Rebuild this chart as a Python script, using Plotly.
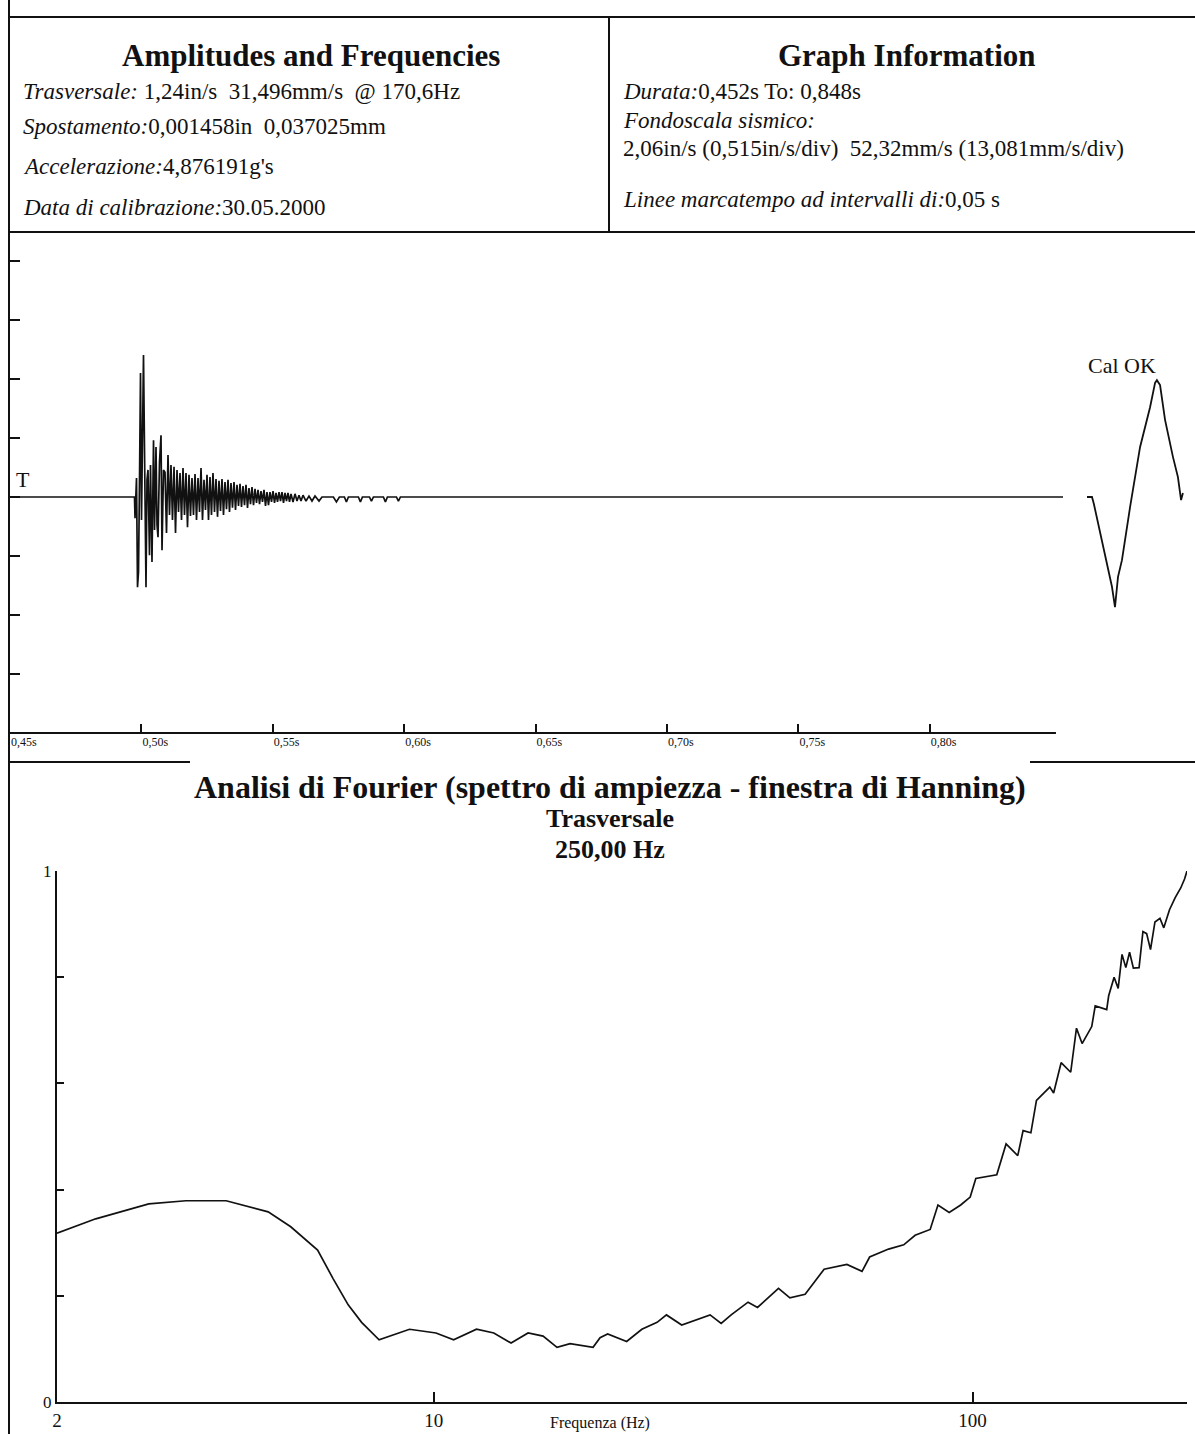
import math
import plotly.graph_objects as go

W, H = 1195, 1434
FONT = "Liberation Serif"
INK = "#111111"


def px(x):
    return x / W


def py(y):
    return 1 - y / H


# ---------------- header text ----------------
AMP_TITLE = "Amplitudes and Frequencies"
INFO_TITLE = "Graph Information"
AMP_LINES = [
    ("Trasversale:", " 1,24in/s  31,496mm/s  @ 170,6Hz"),
    ("Spostamento:", "0,001458in  0,037025mm"),
    ("Accelerazione:", "4,876191g's"),
    ("Data di calibrazione:", "30.05.2000"),
]
INFO_LINES = [
    ("Durata:", "0,452s To: 0,848s"),
    ("Fondoscala sismico:", ""),
    ("", "2,06in/s (0,515in/s/div)  52,32mm/s (13,081mm/s/div)"),
    ("Linee marcatempo ad intervalli di:", "0,05 s"),
]

# ---------------- seismic trace (mm/s) ----------------
MM_PER_DIV = 13.081
TIME_TICKS = [0.45, 0.50, 0.55, 0.60, 0.65, 0.70, 0.75, 0.80]
TIME_LABELS = ["0,45s", "0,50s", "0,55s", "0,60s", "0,65s", "0,70s", "0,75s", "0,80s"]
T_END = 0.848

WAVE_T = [
    0.45000, 0.49737, 0.49757, 0.49814, 0.49852, 0.49890, 0.49928, 0.49966,
    0.50004, 0.50080, 0.50175, 0.50213, 0.50251, 0.50308, 0.50346, 0.50403,
    0.50461, 0.50499, 0.50556, 0.50594, 0.50632, 0.50689, 0.50746, 0.50784,
    0.50841, 0.50898, 0.50955, 0.51012, 0.51069, 0.51126, 0.51183, 0.51241,
    0.51298, 0.51355, 0.51412, 0.51469, 0.51526, 0.51583, 0.51640, 0.51697,
    0.51754, 0.51811, 0.51868, 0.51925, 0.51982, 0.52040, 0.52097, 0.52154,
    0.52211, 0.52268, 0.52325, 0.52382, 0.52439, 0.52496, 0.52553, 0.52610,
    0.52667, 0.52724, 0.52781, 0.52839, 0.52896, 0.52953, 0.53010, 0.53067,
    0.53124, 0.53181, 0.53238, 0.53295, 0.53352, 0.53409, 0.53466, 0.53524,
    0.53581, 0.53638, 0.53695, 0.53752, 0.53809, 0.53866, 0.53923, 0.53980,
    0.54037, 0.54094, 0.54151, 0.54208, 0.54266, 0.54323, 0.54380, 0.54437,
    0.54494, 0.54551, 0.54608, 0.54665, 0.54722, 0.54779, 0.54836, 0.54893,
    0.54951, 0.55008, 0.55065, 0.55122, 0.55179, 0.55236, 0.55293, 0.55350,
    0.55407, 0.55464, 0.55521, 0.55578, 0.55635, 0.55693, 0.55769, 0.55845,
    0.55921, 0.55997, 0.56073, 0.56149, 0.56263, 0.56377, 0.56491, 0.56606,
    0.56758, 0.56872, 0.57306, 0.57420, 0.57534, 0.57725, 0.57801, 0.57877,
    0.58257, 0.58334, 0.58410, 0.58676, 0.58753, 0.58829, 0.59209, 0.59285,
    0.59361, 0.59704, 0.59780, 0.59856, 0.85068,
]
WAVE_V = [
    0.0, 0.0, -4.7, 4.2, -20.0, -16.6, 3.8, 27.5,
    -5.1, 31.496, -20.0, 3.8, 6.0, -12.9, 7.1, -14.4,
    12.6, -7.3, 11.1, -6.2, -8.9, 7.8, 13.7, -11.8,
    6.0, 5.5, -8.0, 9.3, -4.0, 7.1, -5.1, 6.7,
    -8.0, 6.0, -3.3, 5.3, -5.1, 6.4, -4.0, 5.3,
    -6.7, 4.9, -4.2, 4.2, -4.0, 5.1, -5.1, 4.2,
    -3.3, 6.4, -5.1, 3.8, -2.9, 4.9, -5.1, 4.4,
    -4.0, 5.3, -3.3, 4.0, -4.4, 3.6, -3.1, 4.0,
    -4.0, 3.3, -2.7, 3.8, -3.3, 3.1, -2.4, 3.3,
    -2.9, 2.7, -2.0, 2.9, -2.2, 2.4, -1.8, 2.7,
    -2.4, 2.0, -1.6, 2.2, -1.8, 1.8, -1.3, 1.6,
    -1.6, 1.3, -1.1, 1.6, -2.0, 1.1, -1.8, 1.1,
    -1.1, 1.3, -1.3, 0.9, -1.1, 1.1, -0.9, 1.1,
    -1.3, 0.9, -0.9, 0.9, -1.1, 0.7, -1.1, 0.7,
    -0.9, 0.4, -0.9, 0.4, -0.9, 0.2, -0.9, 0.2,
    -0.9, 0.0, 0.0, -1.1, 0.0, 0.0, -1.1, 0.0,
    0.0, -1.1, 0.0, 0.0, -0.9, 0.0, 0.0, -1.1,
    0.0, 0.0, -0.9, 0.0, 0.0,
]

# calibration pulse, time in ms from pulse start
CAL_T = [0.0, 1.9, 2.6, 5.0, 7.7, 9.5, 10.65, 11.8, 13.3,
         16.4, 20.2, 24.0, 25.9, 26.6, 27.8, 29.7, 32.7, 34.6, 35.8, 36.5]
CAL_V = [0.0, 0.0, -1.5, -8.0, -14.6, -19.9, -24.4, -17.7, -14.0,
         -2.2, 11.1, 19.9, 25.3, 25.9, 24.8, 17.1, 8.9, 4.4, -0.7, 0.9]

# ---------------- amplitude spectrum ----------------
FREQ_HZ = [
    2.00, 2.36, 2.96, 3.47, 4.12, 4.93, 5.43, 6.09, 6.51, 6.94, 7.35, 7.92,
    9.02, 10.10, 10.89, 12.01, 12.93, 13.92, 14.97, 15.96, 16.94, 17.91,
    19.76, 20.36, 21.03, 22.81, 24.34, 25.98, 27.04, 28.86, 32.58, 34.16,
    35.65, 38.32, 39.90, 43.64, 45.82, 48.90, 53.03, 58.45, 62.36, 64.42,
    69.85, 74.52, 78.24, 83.44, 86.26, 90.50, 95.06, 99.0, 101.4, 110.9,
    115.4, 121.3, 124.1, 128.3, 131.4, 139.1, 141.4, 146.0, 152.1, 155.9,
    159.7, 166.4, 168.9, 177.4, 178.9, 183.1, 186.3, 189.4, 192.5, 195.6,
    198.8, 203.7, 207.1, 210.4, 213.9, 218.0, 222.7, 226.4, 232.0, 237.7,
    243.4, 247.4, 250.0,
]
AMPLITUDE = [
    0.318, 0.345, 0.373, 0.379, 0.379, 0.358, 0.330, 0.286, 0.232, 0.183, 0.150, 0.117,
    0.137, 0.130, 0.117, 0.137, 0.130, 0.111, 0.130, 0.124, 0.103, 0.110,
    0.103, 0.121, 0.128, 0.114, 0.137, 0.150, 0.164, 0.145, 0.164, 0.148,
    0.164, 0.188, 0.178, 0.214, 0.196, 0.203, 0.250, 0.259, 0.246, 0.273,
    0.288, 0.296, 0.314, 0.325, 0.371, 0.357, 0.371, 0.386, 0.421, 0.428,
    0.486, 0.464, 0.511, 0.507, 0.568, 0.593, 0.582, 0.639, 0.621, 0.704,
    0.675, 0.707, 0.746, 0.739, 0.765, 0.800, 0.779, 0.843, 0.818, 0.847,
    0.817, 0.818, 0.886, 0.882, 0.852, 0.904, 0.911, 0.893, 0.927, 0.950,
    0.968, 0.985, 1.000,
]
FREQ_TICKS = [2, 10, 100]
FREQ_LABELS = ["2", "10", "100"]
AMP_TICKS = [0, 0.2, 0.4, 0.6, 0.8, 1.0]
AMP_LABELS = ["0", "", "", "", "", "1"]

FOURIER_TITLE = "Analisi di Fourier (spettro di ampiezza - finestra di Hanning)"
FOURIER_SUB1 = "Trasversale"
FOURIER_SUB2 = "250,00 Hz"
FREQ_TITLE = "Frequenza (Hz)"

fig = go.Figure()

fig.add_trace(go.Scatter(x=WAVE_T, y=WAVE_V, mode="lines", xaxis="x", yaxis="y",
                         line=dict(color=INK, width=1.7), hoverinfo="skip"))
fig.add_trace(go.Scatter(x=CAL_T, y=CAL_V, mode="lines", xaxis="x2", yaxis="y",
                         line=dict(color=INK, width=1.8), hoverinfo="skip"))
fig.add_trace(go.Scatter(x=FREQ_HZ, y=AMPLITUDE, mode="lines", xaxis="x3", yaxis="y2",
                         line=dict(color=INK, width=1.7), hoverinfo="skip"))

y_ticks = [k * MM_PER_DIV for k in range(-4, 5)]
ms_per_px = 0.05 / 131.4 * 1000


def axis_style(size):
    return dict(showgrid=False, zeroline=False, automargin=False, color=INK,
                tickcolor=INK, tickfont=dict(family=FONT, color=INK, size=size))


fig.update_layout(
    width=W, height=H,
    margin=dict(l=0, r=0, t=0, b=0, pad=0),
    paper_bgcolor="white", plot_bgcolor="white",
    showlegend=False,
    font=dict(family=FONT, color=INK),
    xaxis=dict(**axis_style(12), domain=[px(10), px(1063)], range=[0.45, 0.85068],
               anchor="y", showline=False, ticks="inside", ticklen=9, tickwidth=2,
               tickvals=TIME_TICKS, ticktext=TIME_LABELS,
               ticklabelposition="outside right"),
    yaxis=dict(**axis_style(12), domain=[py(733), py(232)],
               range=[-4 * MM_PER_DIV, 58.75], anchor="x",
               showline=True, linewidth=2, linecolor=INK,
               ticks="inside", ticklen=10, tickwidth=2,
               tickvals=y_ticks, showticklabels=False),
    xaxis2=dict(domain=[px(1063), 1.0], range=[-24 * ms_per_px, 108 * ms_per_px],
                anchor="y", visible=False, automargin=False),
    xaxis3=dict(**axis_style(19), type="log", domain=[px(57), px(1187)],
                range=[math.log10(2), math.log10(250)], anchor="y2",
                showline=True, linewidth=2, linecolor=INK,
                ticks="inside", ticklen=10, tickwidth=2,
                tickvals=FREQ_TICKS, ticktext=FREQ_LABELS),
    yaxis2=dict(**axis_style(17), domain=[py(1402), py(871)], range=[0, 1], anchor="x3",
                showline=True, linewidth=2, linecolor=INK,
                ticks="inside", ticklen=7, tickwidth=2,
                tickvals=AMP_TICKS, ticktext=AMP_LABELS),
)

# frame lines
line_style = dict(color=INK, width=2)
frame = [
    (9, 0, 9, H),
    (9, 17, W, 17),
    (9, 232, W, 232),
    (609, 17, 609, 232),
    (9, 762, 190, 762),
    (1030, 762, W, 762),
]
for x0, y0, x1, y1 in frame:
    fig.add_shape(type="line", xref="paper", yref="paper",
                  x0=px(x0), y0=py(y0), x1=px(x1), y1=py(y1), line=line_style)
# time axis baseline up to the end of the record
fig.add_shape(type="line", xref="x", yref="paper", x0=0.45, x1=T_END,
              y0=py(733), y1=py(733), line=line_style)


def note(text, x, y, size, xanchor="left", bold=False):
    if bold:
        text = f"<b>{text}</b>"
    fig.add_annotation(text=text.replace("  ", "\u00a0\u00a0"), x=px(x), y=py(y),
                       xref="paper", yref="paper", xanchor=xanchor, yanchor="middle",
                       showarrow=False, font=dict(family=FONT, size=size, color=INK))


note(AMP_TITLE, 311, 56, 31, "center", bold=True)
note(INFO_TITLE, 907, 56, 31, "center", bold=True)
for (lab, val), y in zip(AMP_LINES, [91, 127, 166, 208]):
    note(f"<i>{lab}</i>{val}", 21, y, 23)
for (lab, val), y in zip(INFO_LINES, [91, 120, 149, 199]):
    note((f"<i>{lab}</i>" if lab else "") + val, 621, y, 23)

note("T", 23, 479, 22, "center")
note("Cal OK", 1122, 366, 22, "center")

note(FOURIER_TITLE, 610, 787, 32, "center", bold=True)
note(FOURIER_SUB1, 610, 818, 26, "center", bold=True)
note(FOURIER_SUB2, 610, 849, 26, "center", bold=True)
note(FREQ_TITLE, 600, 1423, 16, "center")

fig.write_html("out.html")
